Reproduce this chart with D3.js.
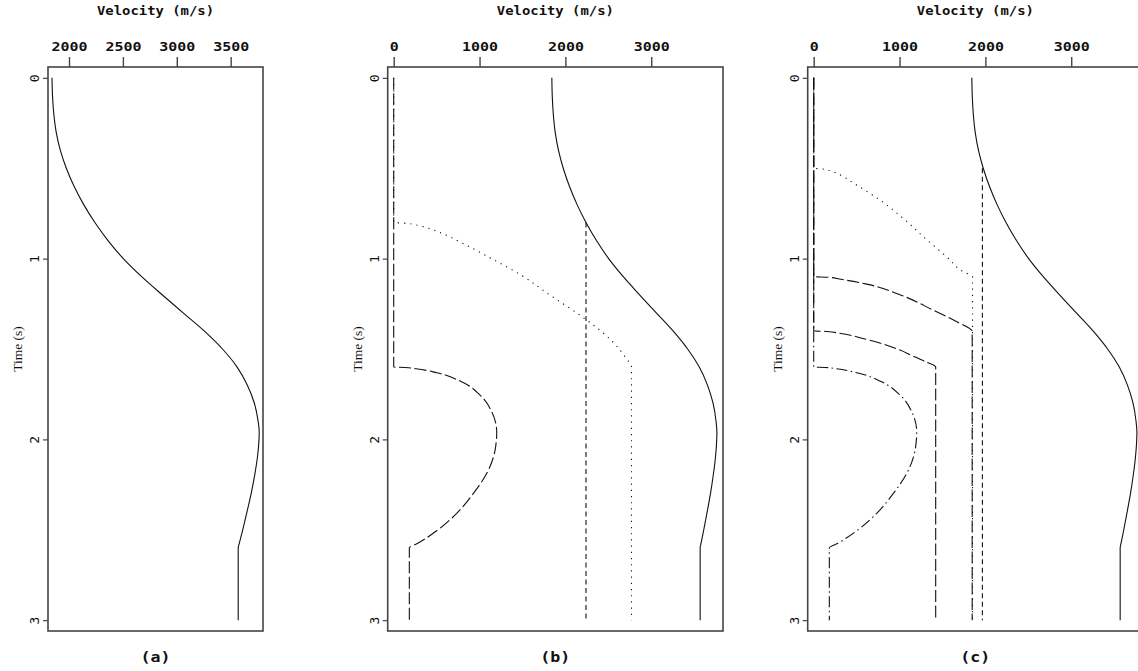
<!DOCTYPE html>
<html>
<head>
<meta charset="utf-8">
<script src="https://cdn.jsdelivr.net/npm/d3@7"></script>
<style>
  body { margin: 0; background: #fff; }
  svg { display: block; }
</style>
</head>
<body>
<svg width="1138" height="671"></svg>
<script>
// ---- data: [time (s), velocity (m/s)] ----
const timeTicks = [0, 1, 2, 3];
const velTicksA = [2000, 2500, 3000, 3500];
const velTicksBC = [0, 1000, 2000, 3000];
const timeDomain = [-0.06, 3.06];
const velDomainA = [1805, 3800];
const velDomainBC = [-70, 3836];
const panelLabels = ["(a)", "(b)", "(c)"];

// interval velocity (solid line, same in all three panels)
const vInterval = [
  [0, 1842], [0.1, 1847], [0.2, 1859], [0.3, 1881], [0.4, 1919], [0.5, 1975],
  [0.6, 2047], [0.7, 2135], [0.8, 2240], [0.9, 2362], [1.0, 2504], [1.1, 2674],
  [1.2, 2864], [1.3, 3059], [1.4, 3254], [1.5, 3424], [1.6, 3560], [1.7, 3655],
  [1.8, 3720], [1.9, 3755], [1.96, 3765], [2.0, 3763], [2.1, 3748], [2.2, 3722],
  [2.3, 3690], [2.4, 3652], [2.5, 3612], [2.58, 3578], [2.6, 3570], [3.0, 3570]
];

// panel (b)
const bFlat = [[0.8, 2240], [3.0, 2240]];
const bDotted = [
  [0, 0], [0.8, 0], [0.805, 160], [0.81, 225], [0.82, 320], [0.833, 415],
  [0.85, 510], [0.87, 610], [0.9, 740], [0.95, 945], [1.0, 1140], [1.09, 1480],
  [1.2, 1815], [1.32, 2190], [1.45, 2530], [1.55, 2705], [1.6, 2770], [3.0, 2770]
];
const bDashed = [
  [0, 0], [1.6, 0], [1.602, 130], [1.609, 260], [1.631, 500], [1.68, 785],
  [1.755, 1006], [1.847, 1142], [1.96, 1200], [2.059, 1181], [2.188, 1084],
  [2.299, 928], [2.409, 734], [2.502, 510], [2.575, 280], [2.6, 182], [3.0, 182]
];

// panel (c)
const cFlat = [[0.5, 1965], [3.0, 1965]];
const cDotted = [
  [0, 0], [0.5, 0], [0.505, 112], [0.516, 205], [0.54, 320], [0.584, 470],
  [0.676, 772], [0.768, 1020], [0.897, 1320], [0.99, 1549], [1.073, 1743],
  [1.1, 1850], [3.0, 1850]
];
const cDashed1 = [
  [0, 0], [1.1, 0], [1.103, 170], [1.113, 300], [1.141, 617], [1.2, 1005],
  [1.285, 1393], [1.349, 1666], [1.391, 1829], [1.4, 1846], [3.0, 1846]
];
const cDashed2 = [
  [0, 0], [1.4, 0], [1.403, 150], [1.413, 300], [1.45, 640], [1.506, 1005],
  [1.533, 1130], [1.57, 1300], [1.6, 1421], [3.0, 1421]
];
const cDashDot = bDashed;

// ---- layout ----
const svg = d3.select("svg");
const yTop = 67, yBottom = 631;
const styles = {
  solid: null,
  shortDash: "5,3.5",
  dotted: "1.2,5",
  longDash: "12,3.5",
  dashDot: "11,3.5,1.5,3.5"
};

const panels = [
  { left: 48, right: 263, domain: velDomainA, ticks: velTicksA,
    series: [[vInterval, "solid"]] },
  { left: 387.7, right: 723, domain: velDomainBC, ticks: velTicksBC,
    series: [[bDashed, "longDash"], [bDotted, "dotted"], [bFlat, "shortDash"], [vInterval, "solid"]] },
  { left: 807.7, right: 1143, domain: velDomainBC, ticks: velTicksBC,
    series: [[cDashDot, "dashDot"], [cDashed2, "longDash"], [cDashed1, "longDash"],
             [cDotted, "dotted"], [cFlat, "shortDash"], [vInterval, "solid"]] }
];

const y = d3.scaleLinear().domain(timeDomain).range([yTop, yBottom]);
const mono = "'DejaVu Sans Mono', 'Liberation Mono', monospace";
const boxColor = "#444";

panels.forEach((p, i) => {
  const x = d3.scaleLinear().domain(p.domain).range([p.left, p.right]);
  const g = svg.append("g");

  const line = d3.line()
    .x(d => x(d[1]))
    .y(d => y(d[0]))
    .curve(d3.curveMonotoneY);

  p.series.forEach(([data, style]) => {
    g.append("path")
      .attr("d", line(data))
      .attr("fill", "none")
      .attr("stroke", "#111")
      .attr("stroke-width", 1.1)
      .attr("stroke-dasharray", styles[style]);
  });

  // frame
  g.append("rect")
    .attr("x", p.left).attr("y", yTop)
    .attr("width", p.right - p.left).attr("height", yBottom - yTop)
    .attr("fill", "none").attr("stroke", boxColor).attr("stroke-width", 1.6);

  // velocity axis on top
  const ax = g.append("g")
    .attr("transform", `translate(0,${yTop})`)
    .call(d3.axisTop(x).tickValues(p.ticks).tickFormat(d3.format("d"))
      .tickSize(10).tickSizeOuter(0).tickPadding(6));
  ax.select(".domain").remove();
  ax.selectAll("line").attr("stroke", boxColor).attr("stroke-width", 1.4);
  ax.selectAll("text")
    .attr("font-family", mono).attr("font-weight", "bold").attr("font-size", 11.5)
    .attr("fill", "#111")
    .attr("textLength", d => String(d).length * 9)
    .attr("lengthAdjust", "spacingAndGlyphs");

  // time axis on the left
  const ay = g.append("g")
    .attr("transform", `translate(${p.left},0)`)
    .call(d3.axisLeft(y).tickValues(timeTicks).tickFormat(d3.format("d"))
      .tickSize(5).tickSizeOuter(0));
  ay.select(".domain").remove();
  ay.selectAll("line").attr("stroke", boxColor).attr("stroke-width", 1.2);
  ay.selectAll("text")
    .attr("x", null).attr("dy", null)
    .attr("transform", "translate(-9,0) rotate(-90)")
    .attr("text-anchor", "middle")
    .attr("font-family", mono).attr("font-size", 13)
    .attr("fill", "#111");

  const cx = (p.left + p.right) / 2;

  g.append("text")
    .attr("x", cx).attr("y", 15)
    .attr("text-anchor", "middle")
    .attr("font-family", mono).attr("font-weight", "bold").attr("font-size", 12.5)
    .attr("textLength", 117).attr("lengthAdjust", "spacingAndGlyphs")
    .attr("fill", "#111")
    .text("Velocity (m/s)");

  g.append("text")
    .attr("transform", `translate(${p.left - 26},${(yTop + yBottom) / 2}) rotate(-90)`)
    .attr("text-anchor", "middle")
    .attr("font-family", "'Liberation Serif', serif").attr("font-size", 13.5)
    .attr("fill", "#111")
    .text("Time (s)");

  g.append("text")
    .attr("x", cx).attr("y", 662)
    .attr("text-anchor", "middle")
    .attr("font-family", mono).attr("font-weight", "bold").attr("font-size", 14)
    .attr("textLength", 30).attr("lengthAdjust", "spacingAndGlyphs")
    .attr("fill", "#111")
    .text(panelLabels[i]);
});
</script>
</body>
</html>
